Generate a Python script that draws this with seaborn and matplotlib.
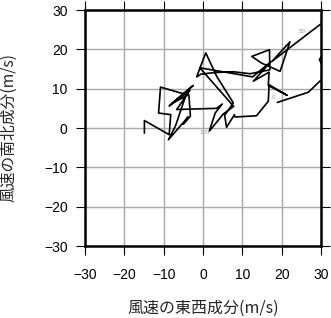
import matplotlib
matplotlib.use("Agg")
import matplotlib.pyplot as plt
import seaborn as sns
import pandas as pd

# wind components (m/s) along the hodograph, in time order
u = [18.9, 26.8, 29.7, 31.5, 29.6, 32.0, 32.0, 27.0,
     17.5, 22.1, 19.6, 14.9, 12.4, 16.9, 17.0, 12.0,
     7.7, 3.0, -0.5, -1.6, -0.6, 0.7, 3.5, 7.7, 5.5, 6.0, 8.0, 8.1,
     13.6, 16.6, 16.8, 21.4, 16.6, 16.8, 12.8, 17.2, 12.6,
     -0.8, 7.8, 5.2, 1.6, 3.1, 4.9, 3.5, -6.7,
     -3.3, -8.6, -2.5, -8.0, -3.6, -3.2, -5.0, -3.8, -8.8, -7.0, -4.3,
     -10.8, -11.3, -8.2, -8.6, -14.9, -14.9]
v = [6.5, 9.1, 11.9, 13.5, 17.4, 21.0, 28.0, 24.2,
     16.9, 21.9, 14.4, 16.5, 18.2, 19.9, 14.8, 13.8,
     14.3, 14.1, 13.7, 13.0, 15.7, 19.1, 13.1, 6.4, 3.2, 0.2, 3.4, 2.8,
     3.1, 6.8, 11.0, 8.3, 10.8, 14.2, 11.9, 16.8, 13.0,
     15.3, 5.5, 3.6, -0.8, 3.8, 6.1, 5.0, 4.7,
     9.6, 5.6, 10.8, 6.2, 8.5, 3.0, 1.0, 2.8, -3.0, 0.5, 8.5,
     10.4, 3.8, 3.4, -1.7, 1.9, -1.3]

label_text = ["0", "50", "100"]
label_u = [18.0, 25.3, 0.5]
label_v = [7.8, 24.5, -1.2]

ticks = [-30, -20, -10, 0, 10, 20, 30]
tick_labels = ["\u221230", "\u221220", "\u221210", "0", "10", "20", "30"]

sns.set_style("white")
plt.rcParams["font.family"] = ["Liberation Sans", "Noto Sans CJK JP", "DejaVu Sans"]

df = pd.DataFrame({"u": u, "v": v, "t": range(len(u))})

fig = plt.figure(figsize=(3.31, 3.18), dpi=100)
ax = fig.add_axes([85 / 331, (318 - 246) / 318, 236 / 331, 236 / 318])

sns.lineplot(data=df, x="u", y="v", sort=False, estimator=None,
             color="black", linewidth=1.2, ax=ax)

for t, x, y in zip(label_text, label_u, label_v):
    ax.text(x, y, t, fontsize=4.5, color="#a0a0a0", ha="center", va="center")

ax.set_xlim(-30, 30)
ax.set_ylim(-30, 30)
ax.set_xticks(ticks)
ax.set_yticks(ticks)
ax.set_xticklabels(tick_labels)
ax.set_yticklabels(tick_labels)
ax.grid(True, color="#a8a8a8", linewidth=1.0)
ax.set_axisbelow(True)
for s in ax.spines.values():
    s.set_color("black")
    s.set_linewidth(1.8)
ax.tick_params(axis="both", which="both", direction="out", length=6.5, width=0.8,
               colors="black", labelsize=10,
               top=True, right=True, bottom=True, left=True)
ax.tick_params(axis="x", pad=9.5)
ax.tick_params(axis="y", pad=6)

cjk = ["Noto Sans CJK JP", "DejaVu Sans"]
ax.set_xlabel("風速の東西成分(m/s)", fontsize=11.5, family=cjk)
ax.set_ylabel("風速の南北成分(m/s)", fontsize=11.3, family=cjk)
ax.xaxis.set_label_coords(0.5, (246 - 308) / 236)
ax.xaxis.label.set_va("center")
ax.yaxis.set_label_coords((8.5 - 85) / 236, 0.5)
ax.yaxis.label.set_va("center")
ax.yaxis.label.set_ha("center")

fig.savefig("out.png", dpi=100)
